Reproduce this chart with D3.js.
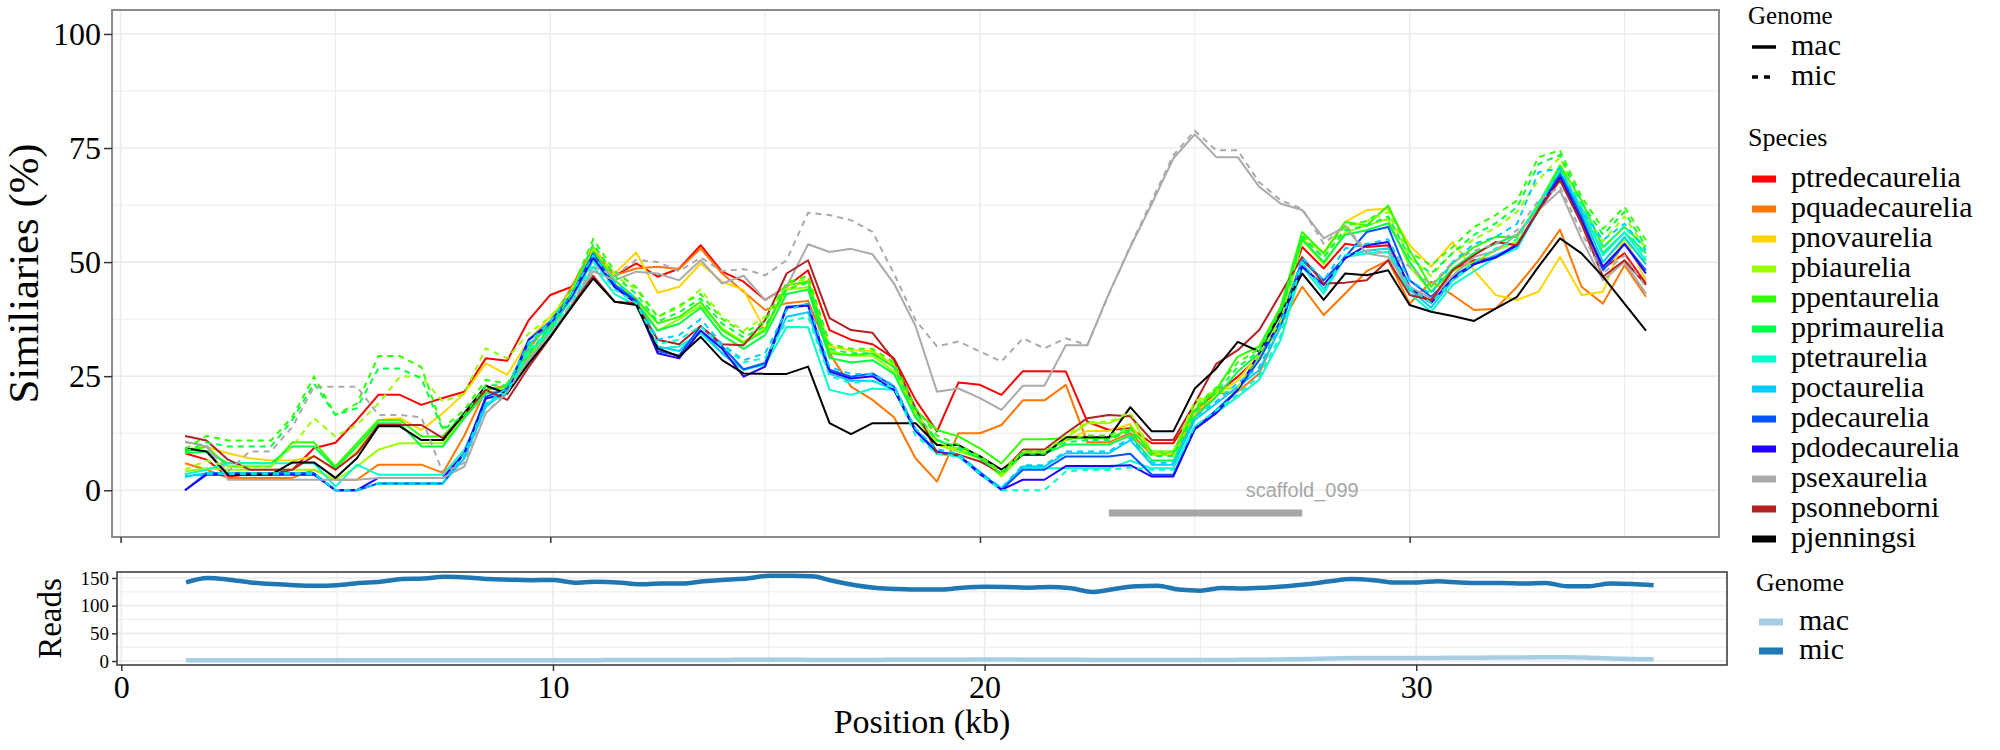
<!DOCTYPE html>
<html>
<head>
<meta charset="utf-8">
<script src="https://cdn.jsdelivr.net/npm/d3@7"></script>
<style>
  body { margin: 0; background: #fff; }
</style>
</head>
<body>
<div id="chart"></div>
<script>
// positions along the scaffold (kb)
const positions = [1.5,2,2.5,3,3.5,4,4.5,5,5.5,6,6.5,7,7.5,8,8.5,9,9.5,10,10.5,11,11.5,12,12.5,13,13.5,14,14.5,15,15.5,16,16.5,17,17.5,18,18.5,19,19.5,20,20.5,21,21.5,22,22.5,23,23.5,24,24.5,25,25.5,26,26.5,27,27.5,28,28.5,29,29.5,30,30.5,31,31.5,32,32.5,33,33.5,34,34.5,35,35.5];

const species = ["ptredecaurelia","pquadecaurelia","pnovaurelia","pbiaurelia","ppentaurelia","pprimaurelia","ptetraurelia","poctaurelia","pdecaurelia","pdodecaurelia","psexaurelia","psonneborni","pjenningsi"];
const speciesColors = ["#FF0000","#FF7700","#FFD500","#99FF00","#33FF00","#00FF44","#00FFCC","#00CCFF","#0055FF","#2200FF","#AAAAAA","#B22222","#000000"];
const genomes = ["mac","mic"];

// similarity (%) per species, macronucleus
const ptredecaureliaMac = [8.1,6.7,3.0,3.5,3.5,4.5,9.2,10.4,15.4,20.9, 20.9,18.7,20.2,21.6,28.9,28.4,37.3,42.8,44.6,53, 47,49.7,46.8,48.6,53.7,47.9,45.7,41.7,44.6,48.2, 35.1,33,32,28.9,19.8,12.9,23.6,23.1,20.9,26.1, 26.1,26,15,13.2,13.6,10.3,10.3,17.6,21.2,24.9, 29.3,39.5,53.3,48.6,54,53.3,53.7,43.9,41.5,48.2, 50.4,51,54,61.5,68.6,59,48.6,51.9,45.3];
const pquadecaureliaMac = [5.9,4.5,2.7,2.7,2.7,2.7,4.5,2.3,2.3,5.6, 5.6,5.6,3.8,12,22,23,31,37,44.6,53.3, 47.1,48.6,49,48.5,53,47.5,43.5,39.5,41,41.5, 30,22.7,19.8,16,7,1.9,12.5,12.5,14.3,19.7, 19.7,23.1,10.5,10.5,12.5,7.8,7.8,16.1,21.2,21.6, 25.6,36.2,44.6,38.4,43.1,48,50.4,40.9,45.7,42.8, 39.5,39.8,44.6,50.4,57.1,44.6,40.9,49.3,42.4];
const pnovaureliaMac = [9,9.5,8.1,7,6.5,6.5,7.4,4.5,8.5,15.4, 15.8,13.2,16.9,21.2,27.8,25.3,32.9,38,43,53, 47.5,52.1,43.3,44.6,49.7,45.7,43.9,35.1,44,46, 31.5,30.7,30.5,27.5,16,10,9,7.5,4.5,8.5, 8.5,11,13,13,14.5,7.8,7.8,17,21,24, 30,37,55,52.2,58.8,61.4,61.7,53.7,49,54.4, 48.2,42.8,41.7,43.5,51.1,42.8,43.5,55.5,46];
const pbiaureliaMac = [4.1,4.8,4.5,4.5,4.5,4.5,4.5,2.3,5.2,8.9, 10.3,10.3,10.3,16.1,22,22.7,29.6,35.5,42,51, 45,42,35,37.5,40.5,35.5,32.5,35.5,44,44.5, 30.5,29.5,29.5,26,16,10,8.5,7,3,7.8, 7.8,11.4,14.7,14.7,16.5,8.1,8.1,19,21.6,21.6, 29.3,35.8,54.8,49.5,56.5,58,59.5,49,43.5,48, 50,52.5,54.5,61,69.5,60,50,55,50];
const ppentaureliaMac = [8.5,9.6,5.2,5.2,5.2,10.5,10.5,5.2,10.3,15.4, 15.4,11.8,11.8,16.9,22,22.7,29.3,36,43,52.5, 46,42,36.6,38,41.3,35.1,32.2,35,45,45.7, 30,29.6,30,27,17.6,13.2,11.8,9.2,5.9,11.2, 11.2,11.4,11.4,11.4,13.4,8.5,8.5,17.6,22,29.3, 31.5,40.2,56.6,51.9,58.8,58,62.4,52.6,44.6,49.7, 53.3,55.5,55.5,62.8,71.2,63.5,53.3,57.7,53.3];
const pprimaureliaMac = [8.1,8.5,5.9,5.9,5.9,9.6,9.6,4.8,9.6,14.7, 14.7,9.6,9.6,15.8,21.2,22,28.5,35,42.5,51.5, 45,41,35,36.5,40,34,31,34,43,44, 29,28,28.5,25.5,16,11,9,7,3.5,8, 8,10,10,10,12,6.5,6.5,16,20.5,26, 30,38.5,55,50,56,57,58.5,50,43.5,48.5, 52,54,56,62,70.5,61.5,52,56.5,52];
const ptetraureliaMac = [3.5,4.5,5.9,5.9,5.9,5.9,5.9,0.8,5.6,3.4, 3.4,3.4,3.4,8.9,19,21.2,30.5,34.5,40,49, 43,40.5,31,31.5,34.4,30,26.4,27.5,35.8,35.7, 22,20.9,22.3,22,13,8,7.4,3.7,0.5,4.8, 4.8,4.8,4.8,4.8,6.5,4.8,4.8,14,17,20.5, 24.2,33,49,43.1,51.1,51.9,52.2,43.1,39.1,45, 48,51,53,61.4,69.7,62,51.5,56.5,50.4];
const poctaureliaMac = [3,3.7,3.7,3.7,3.7,3.7,3.7,0,0,1.5, 1.5,1.5,1.5,7,18.3,22,32,36,42,50.5, 44.5,41,31.5,30.5,35,30,26.4,28,38,39, 25.5,24,24,22,13,8.5,7.4,3.7,0.1,5.2, 5.2,8.1,8.1,8.1,11,5.6,5.6,15.4,19,22.7, 26.3,35.8,49.7,44,51.5,52.5,53,44,40,46, 49.5,51.5,53.5,61.5,69.5,61,50,55.5,49.5];
const pdecaureliaMac = [0,3.7,3.7,3.7,3.7,3.7,3.7,0,0,1.5, 1.5,1.5,1.5,8.1,20.5,22.3,33,37,43,51.9, 45,41.5,30.5,29.5,36,31.5,26.5,27.8,40.2,40.6, 26.4,24.9,25.6,22.7,13.2,8.5,7.6,4,0.1,4.5, 4.5,7.4,7.4,7.4,8,3.4,3.4,13.4,17.6,22, 28.5,37.3,50.4,46,51.1,56.6,57.7,46,42.4,46.8, 49.7,51.1,53.7,61.4,69.4,59.9,48.2,54,48.2];
const pdodecaureliaMac = [0,3.4,3.4,3.4,3.4,3.4,3.4,0,0,2.7, 2.7,2.7,2.7,8.1,20.1,21.2,33,36.5,42.5,51, 44.5,41,30,28.9,35,31,24.9,27.1,40,40.5, 26,24.5,25,22,13,8.3,7.8,3.5,0.1,2.3, 2.3,5.3,5.3,5.3,5.5,3,3,13.4,16.9,22, 30,36.5,49,45,50.8,53.7,54.4,44.6,41,46.5, 49.5,51,53.7,61.4,68.6,59,49,54,47.5];
const psexaureliaMac = [10.7,9.6,2.3,2.3,2.3,2.3,2.3,2.3,2.3,2.7, 2.7,2.7,2.7,5.2,16.9,21.2,28.5,34,40,48, 46,47.9,47.5,46,50.4,45.3,47,41.7,44.6,53.9, 52.2,52.9,51.7,45.3,36,21.6,22.3,20.2,17.6,22.9, 22.9,31.8,31.8,43.1,53.3,62.8,72.7,78,73,73, 66.5,62.8,61.4,55.2,57.7,51.9,51.1,44.6,42,47, 51.1,52.5,56,61.4,65.7,55,46,50,43.1];
const psonneborniMac = [11.9,10.9,6.7,4.5,4.5,4.5,7.5,4.5,8.1,14.3, 14.3,14.3,11.4,16.5,22,19.8,27,33.5,40.5,47, 41.3,41,33,32,36,32,31.8,37.3,47.5,50.4, 37.7,35.1,34.5,28.5,18,8.1,7.8,6.3,3.7,8.9, 8.9,12.5,15.8,16.5,16.2,11,11,19,27.7,30.7, 35.1,43.1,51.1,45.3,45.5,46,50.4,42.8,41.7,48.2, 51.5,54.4,53.7,61.4,67.9,58.4,46.8,50.4,45];
const pjenningsiMac = [9.2,8.5,3.4,3.4,3.4,6.1,6.1,2.7,7,14, 14,11,11,16.9,22.9,21.2,27.8,33.6,40.2,46.4, 41.3,40.6,31.1,29.3,33.6,28.5,25.6,25.5,25.5,27.1, 14.7,12.3,14.7,14.7,14.7,9.9,9.9,7.4,4.5,7.8, 7.8,11.6,11.6,11.6,18.2,12.9,12.9,22.3,26.7,32.5, 30.4,38.7,47.5,41.7,47.5,47.1,48.2,40.6,39.1,38.2, 37.1,39.8,42.4,49,55.2,51.9,46.8,40.9,35];

// similarity (%) per species, micronucleus
const pbiaureliaMic = [4.5,6.5,5.2,5.2,5.2,9.6,15.8,11.8,14.3,19, 24.9,24.9,19.4,21.2,31.1,28.9,34.4,38,44,53, 47,44,38,40,44,38,35,38,45,46.5, 32,30.5,30.5,27.5,17,10.5,9,7.5,3.5,8.5, 8.5,12,15,15,17,8.5,8.5,19.5,22,22.5, 30,37,55.5,51,57.5,59,61,51,47,52, 55,57.5,61,68,73,62,54.5,60,53];
const ppentaureliaMic = [9,11.9,10.9,10.9,10.9,16.1,24.9,16.5,19,29.4, 29.4,27,13.6,17.6,24.2,23.4,31.5,37,44,55, 48,44.5,38,40.5,43,37.5,34.5,37,45.5,47, 32,31,31,28,18,12,10,7.5,4,8.5, 8.5,11,12,12,14,8,8,18,22.5,28, 31,40,56,52,58,59,62,52.2,49.3,53.3, 57.7,60.3,63.5,73,74.5,64.3,57.3,62.1,54.8];
const pprimaureliaMic = [8.5,10.5,9.6,9.6,9.6,15.4,23.4,16.5,18,26.7, 26.7,24.5,13.2,16.5,23,23,30,36,43,54, 47,43,37,39,42,36.5,33.5,36,44,45.5, 31,30,30,27,17,11,9.5,7,3.5,8, 8,10.5,11,11,13,7.5,7.5,17,21.5,27, 30.5,39.5,55.5,51,57,58,60,51,47.5,52, 56,58.5,62,71.5,73.5,63,56,61,53.5];
const ptetraureliaMic = [3,3.7,3.7,3.7,3.7,3.7,3.7,0,0,1.5, 1.5,1.5,1.5,8,19,21.5,31,35,41,50, 44,41,32,33,36,31.5,28,29,37,38, 25,23.5,24,22.5,12,8,7.5,3.5,0,0, 0,4.1,4.5,4.5,5,4.5,4.5,14,17.5,21, 25,34,50,44,51.5,52.5,53,44.5,41,46, 50,53,55,63,70,62.5,53,58,51];
const poctaureliaMic = [3,3.5,3.5,3.5,3.5,3.5,3.5,0,0,1.5, 1.5,1.5,1.5,7.5,19,22.5,32.5,37,43,51.5, 45.5,42,33,34,37.5,32,28.5,30,39.5,41, 27,25.5,25.5,23,13.5,9,8,4,0.5,5.5, 5.5,8.5,8.5,8.5,11.5,6,6,16,19.5,23.5, 27,36.5,51,46,53,54,55,46,43,50, 54,55.5,58.4,69.7,70.5,61.4,54.8,58.4,52.6];
const psexaureliaMic = [10.5,9.8,4.1,8.5,8.5,13.9,22.7,22.7,22.7,16.5, 16.5,16,3.8,6,17,21.5,29,34.5,41,49, 47,50.5,50,48,51,48,48.5,47.1,50.4,60.8, 60.3,59.2,56.6,47.5,37.3,31.5,32.6,30.4,28.2,33.3, 31.1,33.3,31.8,43,53.5,63.5,73.4,78.8,74.5,74.5, 67.5,63.5,61.7,54,58,52.5,52,49,45,50, 52.5,54,57,63.5,66.5,56.5,47.5,51.5,44.5];

// read depth per genome
const readsMac = [1.5,1.5,1.5,1.5,1.5,1.5,1.5,1.5,1.5,1.5, 1.5,1.5,1.5,1.5,1.5,1.5,1.5,1.5,1.5,1.5, 1.8,1.8,2,2,2,2,2.2,2.2,2.2,2, 2,2,2,2.2,2.2,2.5,2.5,2.8,2.8,2.5, 2.5,2.3,2,2,2,2,2,2,2,2.2, 2.5,3,3.5,4.5,5.5,5.5,5.5,5.5,5.5,6, 6,6.5,6.5,7,7,6,4.5,3.5,3];
const readsMic = [142,150,147,142,139,137,136,137,141,143, 148,149,152,151,148,147,146,146.5,141.5,143, 142,138.5,140,140,144,147,149,154,154,153, 144.5,137,132,130,129,129,132.5,134,133.7,132.5, 133.7,131.3,124.7,130,135,136,129,127,132,131, 132.5,135,139,144,148,146,142,142,144,142, 141,141,140,141,135,135,140,139,137];
const readsColors = ["#A6CEE3","#1F78B4"];

// scaffold annotation
const scaffoldName = "scaffold_099";
const scaffoldStart = 23;
const scaffoldEnd = 27.5;
const scaffoldY = -5;

const simTicks = [0,25,50,75,100];
const posTicks = [0,10,20,30];
const readTicks = [0,50,100,150];

const macBySpecies = [ptredecaureliaMac,pquadecaureliaMac,pnovaureliaMac,pbiaureliaMac,ppentaureliaMac,pprimaureliaMac,ptetraureliaMac,poctaureliaMac,pdecaureliaMac,pdodecaureliaMac,psexaureliaMac,psonneborniMac,pjenningsiMac];
const micBySpecies = {
  pbiaurelia: pbiaureliaMic, ppentaurelia: ppentaureliaMic, pprimaurelia: pprimaureliaMic,
  ptetraurelia: ptetraureliaMic, poctaurelia: poctaureliaMic, psexaurelia: psexaureliaMic
};

const width = 2000, height = 750;
const serif = "'Liberation Serif', 'Times New Roman', serif";

const svg = d3.select("#chart").append("svg")
  .attr("width", width)
  .attr("height", height)
  .style("font-family", serif);

// ---------- top panel ----------
const p1 = { left: 112, right: 1719, top: 10, bottom: 537 };
const x1 = d3.scaleLinear().domain([-0.2, 37.2]).range([p1.left, p1.right]);
const y1 = d3.scaleLinear().domain([-10.25, 105.25]).range([p1.bottom, p1.top]);

const g1 = svg.append("g");

function grid(g, xs, ys, xVals, yVals, w) {
  xVals.forEach(v => g.append("line")
    .attr("x1", xs(v)).attr("x2", xs(v))
    .attr("y1", ys.range()[0]).attr("y2", ys.range()[1])
    .attr("stroke", "#EBEBEB").attr("stroke-width", w));
  yVals.forEach(v => g.append("line")
    .attr("y1", ys(v)).attr("y2", ys(v))
    .attr("x1", xs.range()[0]).attr("x2", xs.range()[1])
    .attr("stroke", "#EBEBEB").attr("stroke-width", w));
}
grid(g1, x1, y1, [5,15,25,35], [12.5,37.5,62.5,87.5], 1);
grid(g1, x1, y1, posTicks, simTicks, 1.6);

const line1 = d3.line()
  .x((d, i) => x1(positions[i]))
  .y(d => y1(d));

// mac lines
species.forEach((s, k) => {
  g1.append("path")
    .datum(macBySpecies[k])
    .attr("fill", "none")
    .attr("stroke", speciesColors[k])
    .attr("stroke-width", 2)
    .attr("stroke-linejoin", "round")
    .attr("d", line1);
});
// mic lines (dashed)
species.forEach((s, k) => {
  if (!micBySpecies[s]) return;
  g1.append("path")
    .datum(micBySpecies[s])
    .attr("fill", "none")
    .attr("stroke", speciesColors[k])
    .attr("stroke-width", 2)
    .attr("stroke-dasharray", "6 5")
    .attr("d", line1);
});

// scaffold bar + label
g1.append("line")
  .attr("x1", x1(scaffoldStart)).attr("x2", x1(scaffoldEnd))
  .attr("y1", y1(scaffoldY)).attr("y2", y1(scaffoldY))
  .attr("stroke", "#A6A6A6").attr("stroke-width", 7);
g1.append("text")
  .attr("x", x1(scaffoldEnd)).attr("y", y1(0))
  .attr("dy", "0.35em")
  .attr("text-anchor", "middle")
  .attr("font-family", "'Liberation Sans', Arial, sans-serif")
  .attr("font-size", 20)
  .attr("fill", "#A6A6A6")
  .text(scaffoldName);

g1.append("rect")
  .attr("x", p1.left).attr("y", p1.top)
  .attr("width", p1.right - p1.left).attr("height", p1.bottom - p1.top)
  .attr("fill", "none").attr("stroke", "#8C8C8C").attr("stroke-width", 2);

const yAxis1 = g1.append("g")
  .attr("transform", `translate(${p1.left},0)`)
  .call(d3.axisLeft(y1).tickValues(simTicks).tickSize(8).tickPadding(3));
yAxis1.select(".domain").remove();
yAxis1.selectAll("line").attr("stroke", "#333").attr("stroke-width", 1.5);
yAxis1.selectAll("text").attr("font-family", serif).attr("font-size", 32).attr("fill", "#000");

const xAxis1 = g1.append("g")
  .attr("transform", `translate(0,${p1.bottom})`)
  .call(d3.axisBottom(x1).tickValues(posTicks).tickFormat("").tickSize(6));
xAxis1.select(".domain").remove();
xAxis1.selectAll("line").attr("stroke", "#333").attr("stroke-width", 1.5);

svg.append("text")
  .attr("transform", `translate(38,${(p1.top + p1.bottom) / 2}) rotate(-90)`)
  .attr("text-anchor", "middle")
  .attr("font-size", 43)
  .attr("textLength", 260)
  .attr("lengthAdjust", "spacingAndGlyphs")
  .text("Similiaries (%)");

// ---------- bottom panel ----------
const p2 = { left: 117, right: 1727, top: 572, bottom: 665 };
const x2 = d3.scaleLinear().domain([-0.1, 37.2]).range([p2.left, p2.right]);
const y2 = d3.scaleLinear().domain([-7.2, 160.8]).range([p2.bottom, p2.top]);

const g2 = svg.append("g");
grid(g2, x2, y2, [5,15,25,35], [25,75,125], 1);
grid(g2, x2, y2, posTicks, readTicks, 1.6);

const line2 = d3.line()
  .x((d, i) => x2(positions[i]))
  .y(d => y2(d))
  .curve(d3.curveMonotoneX);

[readsMac, readsMic].forEach((arr, k) => {
  g2.append("path")
    .datum(arr)
    .attr("fill", "none")
    .attr("stroke", readsColors[k])
    .attr("stroke-width", 4.5)
    .attr("stroke-linejoin", "round")
    .attr("d", line2);
});

g2.append("rect")
  .attr("x", p2.left).attr("y", p2.top)
  .attr("width", p2.right - p2.left).attr("height", p2.bottom - p2.top)
  .attr("fill", "none").attr("stroke", "#333").attr("stroke-width", 1.5);

const yAxis2 = g2.append("g")
  .attr("transform", `translate(${p2.left},0)`)
  .call(d3.axisLeft(y2).tickValues(readTicks).tickSize(5).tickPadding(3));
yAxis2.select(".domain").remove();
yAxis2.selectAll("line").attr("stroke", "#333").attr("stroke-width", 1.5);
yAxis2.selectAll("text").attr("font-family", serif).attr("font-size", 19).attr("fill", "#000");

const xAxis2 = g2.append("g")
  .attr("transform", `translate(0,${p2.bottom})`)
  .call(d3.axisBottom(x2).tickValues(posTicks).tickSize(6).tickPadding(4));
xAxis2.select(".domain").remove();
xAxis2.selectAll("line").attr("stroke", "#333").attr("stroke-width", 1.5);
xAxis2.selectAll("text").attr("font-family", serif).attr("font-size", 32).attr("fill", "#000");

svg.append("text")
  .attr("transform", `translate(61,${(p2.top + p2.bottom) / 2}) rotate(-90)`)
  .attr("text-anchor", "middle")
  .attr("font-size", 33)
  .text("Reads");

svg.append("text")
  .attr("x", (p2.left + p2.right) / 2)
  .attr("y", 733)
  .attr("text-anchor", "middle")
  .attr("font-size", 34)
  .text("Position (kb)");

// ---------- legends ----------
const leg = svg.append("g");
leg.append("text").attr("x", 1748).attr("y", 24).attr("font-size", 25).text("Genome");
genomes.forEach((gname, i) => {
  const yy = 47 + i * 30;
  leg.append("line")
    .attr("x1", 1752).attr("x2", 1776).attr("y1", yy).attr("y2", yy)
    .attr("stroke", "#000").attr("stroke-width", 3.5)
    .attr("stroke-dasharray", gname === "mic" ? "6 6" : null);
  leg.append("text").attr("x", 1791).attr("y", yy + 8).attr("font-size", 30).text(gname);
});

leg.append("text").attr("x", 1748).attr("y", 146).attr("font-size", 26).text("Species");
species.forEach((s, i) => {
  const yy = 179 + i * 30;
  leg.append("rect")
    .attr("x", 1752).attr("y", yy - 3.5).attr("width", 24).attr("height", 7)
    .attr("fill", speciesColors[i]);
  leg.append("text").attr("x", 1791).attr("y", yy + 8).attr("font-size", 30).text(s);
});

leg.append("text").attr("x", 1756).attr("y", 591).attr("font-size", 26).text("Genome");
genomes.forEach((gname, i) => {
  const yy = 622 + i * 29;
  leg.append("rect")
    .attr("x", 1759).attr("y", yy - 3.5).attr("width", 24).attr("height", 7)
    .attr("fill", readsColors[i]);
  leg.append("text").attr("x", 1799).attr("y", yy + 8).attr("font-size", 30).text(gname);
});
</script>
</body>
</html>
